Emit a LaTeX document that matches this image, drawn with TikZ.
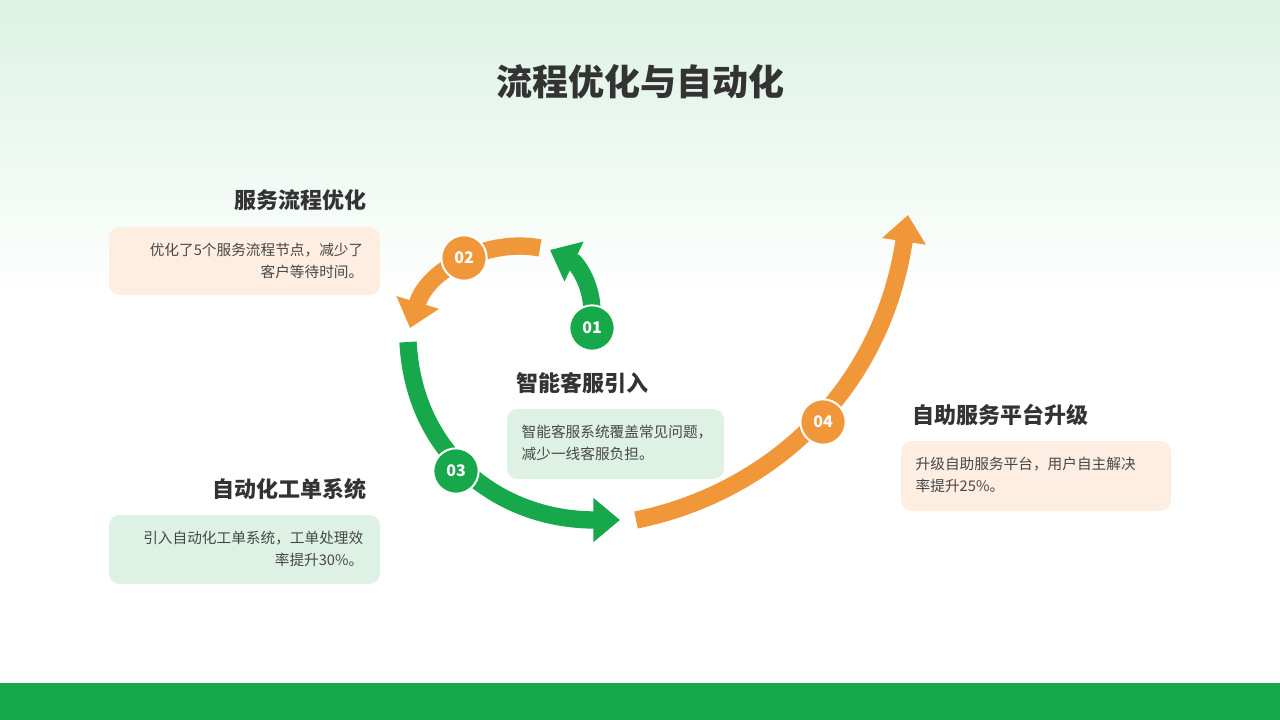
\documentclass[tikz,border=0pt]{standalone}
\usepackage{fontspec}
\setmainfont{Noto Sans CJK SC}
\usetikzlibrary{arrows.meta}
\definecolor{gmain}{HTML}{16A84A}
\definecolor{omain}{HTML}{F0973A}
\definecolor{gsoft}{HTML}{DDF2E4}
\definecolor{osoft}{HTML}{FDEEE1}
\definecolor{txt}{HTML}{333333}
\tikzset{
  num/.style={circle, fill=#1, draw=white, line width=1.5pt, minimum size=34pt, inner sep=0pt, text=white, font=\bfseries\fontsize{12}{12}\selectfont},
  band/.style={line width=13pt, draw=#1, -{Triangle[length=20pt,width=32pt]}},
  head/.style={font=\bfseries\fontsize{16.5}{18}\selectfont, text=txt},
  body/.style={font=\fontsize{11}{16}\selectfont, text=txt!90, align=#1}
}
\begin{document}
\begin{tikzpicture}[x=0.75pt,y=-0.75pt]
 \useasboundingbox (0,0) rectangle (1280,720);
 \shade[top color=gmain!15, bottom color=white] (0,0) rectangle (1280,300);
 \fill[white] (0,300) rectangle (1280,683);
 \fill[gmain] (0,683) rectangle (1280,720);

 \node[font=\bfseries\fontsize{27}{30}\selectfont, text=txt] (title) at (640,82) {流程优化与自动化};

 % arrows
 \coordinate (a1s) at (592,312); \coordinate (a1e) at (550,250);
 \coordinate (a2s) at (540,248); \coordinate (a2e) at (410,328);
 \coordinate (a3s) at (408,342); \coordinate (a3e) at (620,520);
 \coordinate (a4s) at (636,520); \coordinate (a4e) at (908,215);
 \draw[band=gmain] (a1s) .. controls (592,282) and (575,262) .. (a1e);
 \draw[band=omain] (a2s) .. controls (490,238) and (428,268) .. (a2e);
 \draw[band=gmain] (a3s) .. controls (414,455) and (500,520) .. (a3e);
 \draw[band=omain] (a4s) .. controls (760,495) and (880,400) .. (a4e);

 \node[num=gmain] (n1) at (592,328) {01};
 \node[num=omain] (n2) at (464,258) {02};
 \node[num=gmain] (n3) at (456,471) {03};
 \node[num=omain] (n4) at (823,422) {04};

 % texts
 \node[head, anchor=east] (h2) at (371,200) {服务流程优化};
 \fill[osoft, rounded corners=8pt] (109,227) rectangle (380,295);
 \node[body=right, anchor=east] (b2) at (368,261) {优化了5个服务流程节点，减少了\\客户等待时间。};

 \node[head, anchor=west] (h1) at (512,383) {智能客服引入};
 \fill[gsoft, rounded corners=8pt] (507,409) rectangle (724,479);
 \node[body=left, anchor=west] (b1) at (517,443) {智能客服系统覆盖常见问题，\\减少一线客服负担。};

 \node[head, anchor=east] (h3) at (371,489) {自动化工单系统};
 \fill[gsoft, rounded corners=8pt] (109,515) rectangle (380,584);
 \node[body=right, anchor=east] (b3) at (368,549) {引入自动化工单系统，工单处理效\\率提升30\%。};

 \node[head, anchor=west] (h4) at (908,415) {自助服务平台升级};
 \fill[osoft, rounded corners=8pt] (901,441) rectangle (1171,511);
 \node[body=left, anchor=west] (b4) at (911,475) {升级自助服务平台，用户自主解决\\率提升25\%。};
\end{tikzpicture}
\end{document}
